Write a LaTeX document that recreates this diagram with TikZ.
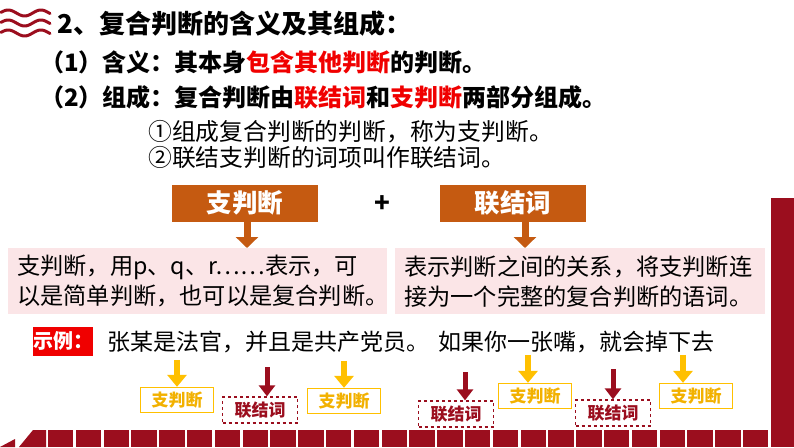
\documentclass[tikz,border=0pt]{standalone}
\usepackage{fontspec}
\setmainfont{Noto Sans CJK SC}
\usetikzlibrary{arrows.meta,positioning}
\definecolor{darkred}{HTML}{9B0E1E}
\definecolor{brownbox}{HTML}{C55A11}
\definecolor{pinkbg}{HTML}{FBE5E7}
\definecolor{gold}{HTML}{FFC000}
\definecolor{goldtext}{HTML}{F2B100}
\definecolor{hotred}{HTML}{F00000}

\begin{document}
\begin{tikzpicture}[x=1pt, y=-1pt,
    hdr/.style={inner sep=0pt, anchor=west, font=\fontsize{26}{26}\selectfont\bfseries},
    itemline/.style={inner sep=0pt, anchor=west, font=\fontsize{24}{24}\selectfont\bfseries},
    note/.style={inner sep=0pt, anchor=west, font=\fontsize{23.8}{23.8}\selectfont},
    tagbox/.style={fill=brownbox, text=white, inner sep=0pt,
                   minimum width=146pt, minimum height=37pt,
                   font=\fontsize{25.5}{25.5}\selectfont\bfseries},
    descbox/.style={fill=pinkbg, inner xsep=9pt, inner ysep=0pt, anchor=north west,
                    minimum height=66pt, align=left,
                    font=\fontsize{23.2}{30}\selectfont},
    zhibox/.style={draw=gold, line width=1.3pt, text=goldtext, inner sep=0pt,
                   minimum width=73pt, minimum height=25pt,
                   font=\fontsize{17}{17}\selectfont\bfseries},
    lianbox/.style={draw=darkred, dashed, line width=1.3pt, text=darkred, inner sep=0pt,
                    minimum width=75pt, minimum height=26pt,
                    font=\fontsize{17}{17}\selectfont\bfseries},
    bigarr/.style={-{Triangle[width=22pt,length=11pt]}, line width=7pt, brownbox},
    yarr/.style={-{Triangle[width=19pt,length=12pt]}, line width=6pt, gold},
    rarr/.style={-{Triangle[width=16pt,length=11pt]}, line width=5pt, darkred}
]
\useasboundingbox (0,0) rectangle (794,447);

% waves before the heading
\foreach \wy in {13,23,33}
  \draw[darkred, line width=3pt, line cap=round, domain=1:50, samples=40, smooth]
    plot (\x, {\wy-3*sin(\x*11)});

% heading and the two items
\node[hdr] (title) at (57,24) {2、复合判断的含义及其组成：};
\node[itemline] (item1) at (40,62) {（1）含义：其本身\textcolor{hotred}{包含其他判断}的判断。};
\node[itemline] (item2) at (40,97) {（2）组成：复合判断由\textcolor{hotred}{联结词}和\textcolor{hotred}{支判断}两部分组成。};
\node[note] (note1) at (148,132) {①组成复合判断的判断，称为支判断。};
\node[note] (note2) at (148,157) {②联结支判断的词项叫作联结词。};

% the two parts
\node[tagbox] (zhi) at (245,203) {支判断};
\node[tagbox] (lian) at (513,203) {联结词};
\node[font=\fontsize{26}{26}\selectfont\bfseries, inner sep=0pt] (plus) at (382,204) {+};

\node[descbox, minimum width=379pt, text width=361pt] (zhidesc) at (8,248)
  {支判断，用p、q、r……表示，可\\以是简单判断，也可以是复合判断。};
\node[descbox, minimum width=370pt, text width=352pt] (liandesc) at (395,248)
  {表示判断之间的关系，将支判断连\\接为一个完整的复合判断的语词。};

\draw[bigarr] ([xshift=2pt]zhi.south) -- ([xshift=2pt]zhi.south |- zhidesc.north);
\draw[bigarr] ([xshift=12pt]lian.south) -- ([xshift=12pt]lian.south |- liandesc.north);

% example
\node[fill=hotred, text=white, inner sep=0pt, minimum width=55pt, minimum height=29pt,
      font=\fontsize{20}{20}\selectfont\bfseries] (shili) at (63,341) {示例：};
\node[note, font=\fontsize{23}{23}\selectfont] (ex1) at (107,342) {张某是法官，并且是共产党员。};
\node[note, font=\fontsize{23}{23}\selectfont] (ex2) at (438,342) {如果你一张嘴，就会掉下去};

\node[zhibox] (z1) at (177,400) {支判断};
\node[lianbox] (l1) at (260,410) {联结词};
\node[zhibox] (z2) at (344,401) {支判断};
\node[lianbox] (l2) at (456,414) {联结词};
\node[zhibox] (z3) at (535,396) {支判断};
\node[lianbox] (l3) at (613,413) {联结词};
\node[zhibox] (z4) at (696,396) {支判断};

\draw[yarr] ([yshift=27pt]z1.north) -- (z1.north);
\draw[rarr] ([xshift=7pt, yshift=29pt]l1.north) -- ([xshift=7pt]l1.north);
\draw[yarr] ([yshift=27pt]z2.north) -- (z2.north);
\draw[rarr] ([xshift=9pt, yshift=28pt]l2.north) -- ([xshift=9pt]l2.north);
\draw[yarr] ([xshift=-7pt, yshift=28pt]z3.north) -- ([xshift=-7pt]z3.north);
\draw[rarr] ([yshift=30pt]l3.north) -- (l3.north);
\draw[yarr] ([xshift=-13pt, yshift=28pt]z4.north) -- ([xshift=-13pt]z4.north);

% frame on the right and at the bottom
\fill[darkred] (771,198) rectangle (794,447);
\fill[darkred] (0,447) -- (15,439) -- (15,447) -- cycle;
\fill[darkred] (19,447) -- (33,430) -- (46,430) -- (46,447) -- cycle;
\foreach \i in {0,...,25}
  \fill[darkred] (48+\i*27.8,430) rectangle ++(25.3,17);
\end{tikzpicture}
\end{document}
